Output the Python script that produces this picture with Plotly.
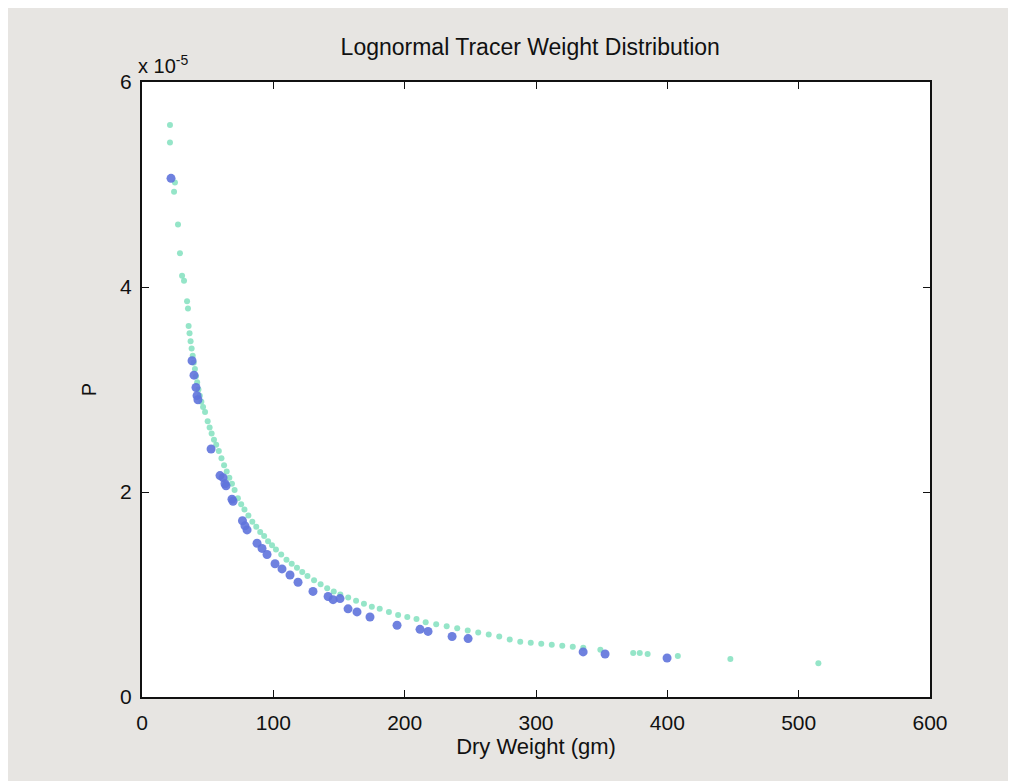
import plotly.graph_objects as go

# Theoretical lognormal PDF points (green), P in units of 1e-5
green_x = [21.3, 21.3, 24.4, 25.1, 27.4, 28.9, 30.5, 32.0, 34.3, 35.0, 35.5, 36.2, 37.0, 37.8,
           38.6, 39.4, 40.3, 41.1, 42.0, 43.0, 44.0, 45.2, 46.5, 48.0, 50.0, 51.5, 53.0, 54.8,
           56.5, 58.5, 60.5, 62.5, 64.5, 66.5, 68.5, 70.5, 73.0, 75.5, 78.0, 81.0, 84.0, 87.0,
           90.0, 93.0, 96.0, 99.0, 102, 106, 110, 114, 118, 122, 126, 131, 136, 141, 146, 151,
           157, 163, 169, 175, 181, 188, 195, 202, 209, 216, 224, 232, 240, 248, 256, 264, 272,
           280, 288, 296, 304, 312, 320, 328, 336, 349, 374, 379, 385, 408, 448, 515]
green_p = [5.58, 5.41, 4.93, 5.02, 4.61, 4.33, 4.11, 4.06, 3.86, 3.79, 3.62, 3.55, 3.47, 3.40,
           3.33, 3.26, 3.20, 3.13, 3.07, 3.00, 2.94, 2.88, 2.83, 2.78, 2.69, 2.63, 2.57, 2.51,
           2.46, 2.40, 2.33, 2.26, 2.20, 2.14, 2.08, 2.02, 1.94, 1.88, 1.83, 1.77, 1.71, 1.66,
           1.61, 1.57, 1.52, 1.48, 1.44, 1.39, 1.34, 1.30, 1.26, 1.22, 1.18, 1.14, 1.10, 1.06,
           1.03, 1.00, 0.97, 0.94, 0.91, 0.88, 0.86, 0.83, 0.80, 0.78, 0.76, 0.73, 0.71, 0.69,
           0.67, 0.65, 0.63, 0.61, 0.59, 0.56, 0.54, 0.53, 0.52, 0.51, 0.50, 0.49, 0.48, 0.46,
           0.43, 0.43, 0.42, 0.40, 0.37, 0.33]

# Observed tracer points (blue), P in units of 1e-5
blue_x = [22.1, 38.1, 39.6, 41.1, 41.9, 42.6, 52.6, 59.4, 61.7, 63.2, 64.0, 68.5, 69.3, 76.5,
          78.4, 80.0, 87.6, 91.4, 95.2, 101.3, 106.6, 112.7, 118.8, 130.2, 141.7, 145.5,
          150.8, 156.9, 163.7, 173.6, 194.2, 211.7, 217.8, 236.1, 248.3, 335.9, 352.6, 399.8]
blue_p = [5.06, 3.28, 3.14, 3.02, 2.94, 2.90, 2.42, 2.16, 2.14, 2.08, 2.06, 1.93, 1.91, 1.72,
          1.67, 1.63, 1.50, 1.45, 1.39, 1.30, 1.25, 1.19, 1.12, 1.03, 0.98, 0.95,
          0.96, 0.86, 0.83, 0.78, 0.70, 0.66, 0.64, 0.59, 0.57, 0.44, 0.42, 0.38]

SCALE = 1e-5
x_ticks = [0, 100, 200, 300, 400, 500, 600]
y_ticks = [0, 2, 4, 6]

fig = go.Figure()
fig.add_trace(go.Scatter(
    x=green_x, y=[v * SCALE for v in green_p], mode="markers",
    marker=dict(size=6, color="rgba(130,225,190,0.85)", line=dict(width=0)),
    showlegend=False))
fig.add_trace(go.Scatter(
    x=blue_x, y=[v * SCALE for v in blue_p], mode="markers",
    marker=dict(size=9, color="rgba(95,115,220,0.9)", line=dict(width=0)),
    showlegend=False))

font = "Liberation Sans, Arial, sans-serif"
fig.update_layout(
    width=1016, height=781,
    margin=dict(l=134, r=94, t=74, b=92),
    paper_bgcolor="#e7e5e2", plot_bgcolor="#ffffff",
    font=dict(family=font, color="#111111", size=20),
    title=dict(text="Lognormal Tracer Weight Distribution", x=0.514, xanchor="center",
               yref="container", y=0.95, yanchor="middle",
               font=dict(size=23, family=font, color="#111111")),
    xaxis=dict(range=[0, 600], tickvals=x_ticks, ticktext=[str(v) for v in x_ticks],
               showgrid=False, zeroline=False, ticks="inside", ticklen=7, tickcolor="#111111",
               showline=True, linecolor="#111111", linewidth=2, mirror="ticks",
               ticklabelstandoff=6,
               title=dict(text="Dry Weight (gm)", font=dict(size=22), standoff=4),
               tickfont=dict(size=21)),
    yaxis=dict(range=[0, 6e-5], tickvals=[v * SCALE for v in y_ticks],
               ticktext=[str(v) for v in y_ticks],
               showgrid=False, zeroline=False, ticks="inside", ticklen=7, tickcolor="#111111",
               showline=True, linecolor="#111111", linewidth=2, mirror="ticks",
               ticklabelstandoff=4,
               title=dict(text="P", font=dict(size=20), standoff=18),
               tickfont=dict(size=21)),
)
fig.add_annotation(text="x 10<sup>-5</sup>", xref="paper", yref="paper", x=-0.008, y=1.005,
                   xanchor="left", yanchor="bottom", showarrow=False,
                   font=dict(size=20, family=font, color="#111111"))

fig.write_html("out.html")
